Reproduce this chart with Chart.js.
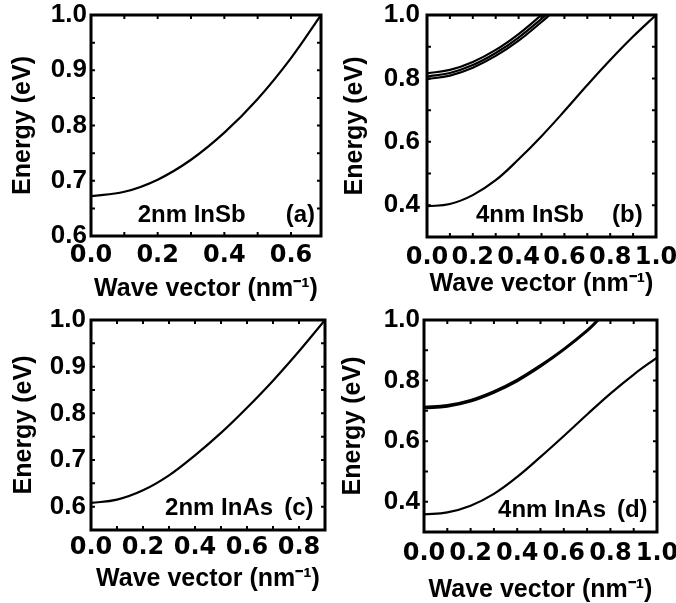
<!DOCTYPE html>
<html>
<head>
<meta charset="utf-8">
<script src="https://cdn.jsdelivr.net/npm/chart.js@4.4.1/dist/chart.umd.min.js"></script>
<style>
  html, body { margin: 0; padding: 0; background: #fff; }
  #fig { position: relative; width: 676px; height: 603px; overflow: hidden; background: #fff; }
  #fig canvas { position: absolute; }
</style>
</head>
<body>
<div id="fig">
  <canvas id="pa" width="338" height="305" style="left:0;top:0"></canvas>
  <canvas id="pb" width="338" height="305" style="left:338px;top:0"></canvas>
  <canvas id="pc" width="338" height="303" style="left:0;top:300px"></canvas>
  <canvas id="pd" width="338" height="303" style="left:338px;top:300px"></canvas>
</div>
<script>
// (a) 2nm InSb
const kA = [0, 0.1, 0.2, 0.3, 0.4, 0.5, 0.6, 0.69];
const eA = [0.672, 0.680, 0.702, 0.738, 0.787, 0.848, 0.922, 1.0];

// (b) 4nm InSb : lowest band + three nearly degenerate upper bands
const kB1 = [0, 0.1, 0.2, 0.3, 0.4, 0.5, 0.6, 0.7, 0.8, 0.9, 1.0];
const eB1 = [0.397, 0.404, 0.432, 0.479, 0.545, 0.618, 0.697, 0.779, 0.858, 0.932, 1.0];
const kB2 = [0, 0.1, 0.2, 0.3, 0.4, 0.5];
const eB2 = [0.816, 0.827, 0.852, 0.890, 0.940, 1.0];
const kB3 = [0, 0.1, 0.2, 0.3, 0.4, 0.5, 0.52];
const eB3 = [0.806, 0.817, 0.842, 0.880, 0.929, 0.988, 1.0];
const kB4 = [0, 0.1, 0.2, 0.3, 0.4, 0.5, 0.535];
const eB4 = [0.798, 0.809, 0.834, 0.871, 0.919, 0.978, 1.0];

// (c) 2nm InAs
const kC = [0, 0.1, 0.2, 0.3, 0.4, 0.5, 0.6, 0.7, 0.8, 0.9];
const eC = [0.608, 0.615, 0.635, 0.667, 0.710, 0.758, 0.812, 0.870, 0.933, 1.0];

// (d) 4nm InAs : lowest band + two overlapping upper bands
const kD1 = [0, 0.1, 0.2, 0.3, 0.4, 0.5, 0.6, 0.7, 0.8, 0.9, 1.0];
const eD1 = [0.358, 0.365, 0.387, 0.426, 0.482, 0.548, 0.617, 0.688, 0.757, 0.820, 0.876];
const kD2 = [0, 0.1, 0.2, 0.3, 0.4, 0.5, 0.6, 0.7, 0.75];
const eD2 = [0.708, 0.714, 0.731, 0.760, 0.798, 0.846, 0.901, 0.963, 1.0];
const kD3 = [0, 0.1, 0.2, 0.3, 0.4, 0.5, 0.6, 0.7, 0.745];
const eD3 = [0.713, 0.719, 0.736, 0.765, 0.803, 0.851, 0.905, 0.967, 1.0];

// tick labels
const xTicksA = [0, 0.2, 0.4, 0.6];
const yTicksA = [0.6, 0.7, 0.8, 0.9, 1.0];
const xTicksB = [0, 0.2, 0.4, 0.6, 0.8, 1.0];
const yTicksB = [0.4, 0.6, 0.8, 1.0];
const xTicksC = [0, 0.2, 0.4, 0.6, 0.8];
const yTicksC = [0.6, 0.7, 0.8, 0.9, 1.0];
const xTicksD = [0, 0.2, 0.4, 0.6, 0.8, 1.0];
const yTicksD = [0.4, 0.6, 0.8, 1.0];

// small inward tick marks on the frame
const xMinorA = [0.1, 0.2, 0.3, 0.4, 0.5, 0.6];
const yMinorA = [0.65, 0.7, 0.75, 0.8, 0.85, 0.9, 0.95];
const xMinorB = [0.1, 0.2, 0.3, 0.4, 0.5, 0.6, 0.7, 0.8, 0.9];
const yMinorB = [0.4, 0.5, 0.6, 0.7, 0.8, 0.9];
const xMinorC = [0.1, 0.2, 0.3, 0.4, 0.5, 0.6, 0.7, 0.8];
const yMinorC = [0.6, 0.65, 0.7, 0.75, 0.8, 0.85, 0.9, 0.95];

const toXY = (ks, es) => ks.map((k, i) => ({ x: k, y: es[i] }));

const framePlugin = {
  id: 'frame',
  afterDraw(chart, args, opts) {
    const { ctx, chartArea: a } = chart;
    const x = chart.scales.x, y = chart.scales.y;
    ctx.save();
    ctx.strokeStyle = '#000';
    ctx.lineWidth = 2;
    ctx.beginPath();
    opts.xStubs.forEach(v => {
      const px = x.getPixelForValue(v);
      ctx.moveTo(px, a.top); ctx.lineTo(px, a.top + 4);
      ctx.moveTo(px, a.bottom); ctx.lineTo(px, a.bottom - 4);
    });
    opts.yStubs.forEach(v => {
      const py = y.getPixelForValue(v);
      ctx.moveTo(a.left, py); ctx.lineTo(a.left + 4, py);
      ctx.moveTo(a.right, py); ctx.lineTo(a.right - 4, py);
    });
    ctx.stroke();
    ctx.lineWidth = 3;
    ctx.strokeRect(a.left, a.top, a.right - a.left, a.bottom - a.top);
    ctx.fillStyle = '#000';
    ctx.font = 'bold 24px "Liberation Sans"';
    ctx.textBaseline = 'alphabetic';
    ctx.textAlign = 'left';
    opts.notes.forEach(n => ctx.fillText(n.text, x.getPixelForValue(n.k), y.getPixelForValue(n.e)));
    ctx.restore();
  }
};

function panel(id, p) {
  const cv = document.getElementById(id);
  const H = cv.height;
  new Chart(cv, {
    type: 'line',
    data: {
      datasets: p.series.map(s => ({
        data: toXY(s[0], s[1]),
        borderColor: '#000',
        borderWidth: 2.2,
        pointRadius: 0,
        fill: false,
        tension: 0.4
      }))
    },
    options: {
      responsive: false,
      animation: false,
      devicePixelRatio: 1,
      layout: { padding: { left: 0, top: p.top, right: cv.width - p.right, bottom: 0 } },
      plugins: {
        legend: { display: false },
        tooltip: { enabled: false },
        frame: { xStubs: p.xStubs, yStubs: p.yStubs, notes: p.notes }
      },
      scales: {
        x: {
          type: 'linear', min: 0, max: p.xMax,
          afterBuildTicks: s => { s.ticks = p.xTicks.map(v => ({ value: v })); },
          afterFit: s => { s.height = H - p.bottom; s.paddingLeft = 0; s.paddingRight = 0; },
          grid: { display: false, drawTicks: false },
          border: { display: false },
          ticks: {
            color: '#000', padding: p.xPad, autoSkip: false, maxRotation: 0,
            font: { family: 'DejaVu Sans', weight: 'bold', size: 24 },
            callback: v => v.toFixed(1)
          },
          title: {
            display: true, text: 'Wave vector (nm\u207B\u00B9)', color: '#000',
            font: { family: 'Liberation Sans', weight: 'bold', size: 25, lineHeight: 1 },
            padding: { top: 0, bottom: p.xTitlePad }
          }
        },
        y: {
          type: 'linear', min: p.yMin, max: 1.0,
          afterBuildTicks: s => { s.ticks = p.yTicks.map(v => ({ value: v })); },
          afterFit: s => { s.width = p.left; s.paddingTop = 0; s.paddingBottom = 0; },
          grid: { display: false, drawTicks: false },
          border: { display: false },
          ticks: {
            color: '#000', padding: p.yPad,
            font: { family: 'Liberation Sans', weight: 'bold', size: 26 },
            callback: v => v.toFixed(1)
          },
          title: {
            display: true, text: 'Energy (eV)', color: '#000',
            font: { family: 'Liberation Sans', weight: 'bold', size: 25, lineHeight: 1 },
            padding: { top: p.yTitlePad, bottom: 0 }
          }
        }
      }
    },
    plugins: [framePlugin]
  });
}

panel('pa', {
  series: [[kA, eA]],
  left: 91, top: 15, right: 321, bottom: 236,
  xMax: 0.69, yMin: 0.6,
  xTicks: xTicksA, yTicks: yTicksA, xStubs: xMinorA, yStubs: yMinorA,
  xPad: 5, yPad: 4, xTitlePad: 3, yTitlePad: 11,
  notes: [{ text: '2nm InSb', k: 0.14, e: 0.625 }, { text: '(a)', k: 0.584, e: 0.625 }]
});

panel('pb', {
  series: [[kB1, eB1], [kB2, eB2], [kB3, eB3], [kB4, eB4]],
  left: 89, top: 15, right: 318, bottom: 237,
  xMax: 1.0, yMin: 0.3,
  xTicks: xTicksB, yTicks: yTicksB, xStubs: xMinorB, yStubs: yMinorB,
  xPad: 6, yPad: 7, xTitlePad: 8, yTitlePad: 5,
  notes: [{ text: '4nm InSb', k: 0.214, e: 0.348 }, { text: '(b)', k: 0.808, e: 0.348 }]
});

panel('pc', {
  series: [[kC, eC]],
  left: 91, top: 20, right: 325, bottom: 230,
  xMax: 0.9, yMin: 0.55,
  xTicks: xTicksC, yTicks: yTicksC, xStubs: xMinorC, yStubs: yMinorC,
  xPad: 3, yPad: 5, xTitlePad: 11, yTitlePad: 12,
  notes: [{ text: '2nm InAs', k: 0.285, e: 0.583 }, { text: '(c)', k: 0.743, e: 0.583 }]
});

panel('pd', {
  series: [[kD1, eD1], [kD2, eD2], [kD3, eD3]],
  left: 86, top: 20, right: 319, bottom: 232,
  xMax: 1.0, yMin: 0.3,
  xTicks: xTicksD, yTicks: yTicksD, xStubs: xMinorB, yStubs: yMinorB,
  xPad: 7, yPad: 4, xTitlePad: 0, yTitlePad: 3,
  notes: [{ text: '4nm InAs', k: 0.318, e: 0.349 }, { text: '(d)', k: 0.828, e: 0.349 }]
});
</script>
</body>
</html>
